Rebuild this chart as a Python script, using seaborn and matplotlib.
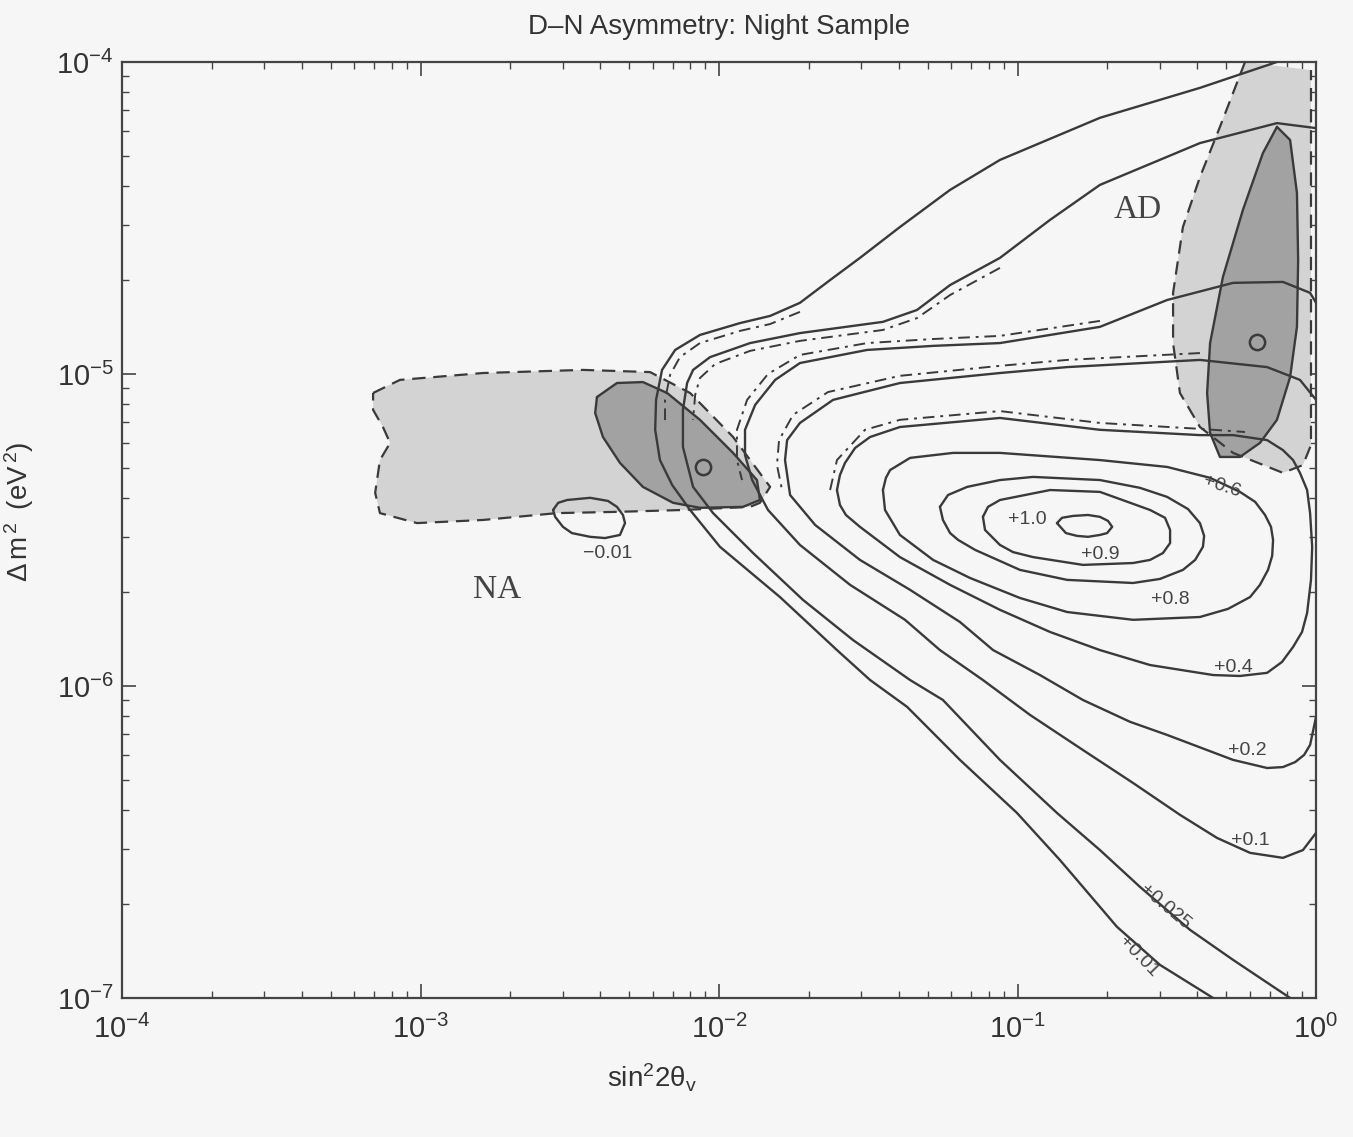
import numpy as np
import matplotlib
matplotlib.use("Agg")
import matplotlib.pyplot as plt
from matplotlib.ticker import LogLocator, NullFormatter
import seaborn as sns

# All coordinates are log10(sin^2 2theta) and log10(delta m^2 / eV^2)

# D-N asymmetry iso-contours (percent)
a001_x = [-0.131, -0.389, -0.724, -1.059, -1.226, -1.394, -1.528, -1.628, -1.729, -1.829, -1.930, -2.064, -2.147, -2.191,
          -2.211, -2.214, -2.198, -2.157, -2.097, -1.997, -1.796, -1.605, -1.494, -1.370, -1.193, -1.002, -0.858, -0.667,
          -0.523, -0.345]
a001_y = [-4.000, -4.083, -4.179, -4.314, -4.410, -4.529, -4.628, -4.699, -4.772, -4.814, -4.837, -4.875, -4.923, -4.987,
          -5.083, -5.179, -5.276, -5.356, -5.436, -5.554, -5.715, -5.885, -5.981, -6.067, -6.237, -6.407, -6.558, -6.772,
          -6.894, -7.000]

a0025_x = [0.000, -0.131, -0.389, -0.724, -0.891, -1.059, -1.226, -1.337, -1.451, -1.729, -1.896, -2.030, -2.087, -2.107,
           -2.121, -2.121, -2.087, -2.020, -1.886, -1.719, -1.551, -1.360, -1.250, -1.059, -0.868, -0.724, -0.590, -0.422,
           -0.278, -0.087]
a0025_y = [-4.212, -4.196, -4.260, -4.394, -4.506, -4.628, -4.715, -4.795, -4.833, -4.869, -4.901, -4.946, -4.987, -5.029,
           -5.115, -5.234, -5.362, -5.446, -5.574, -5.724, -5.853, -5.981, -6.045, -6.237, -6.407, -6.526, -6.644, -6.782,
           -6.878, -7.000]

a01_x = [0.000, -0.020, -0.111, -0.278, -0.499, -0.724, -1.059, -1.283, -1.504, -1.729, -1.812, -1.879, -1.913, -1.913,
         -1.889, -1.836, -1.729, -1.561, -1.377, -1.260, -1.116, -0.958, -0.791, -0.613, -0.456, -0.332, -0.221, -0.111,
         -0.044, 0.000]
a01_y = [-4.772, -4.740, -4.705, -4.708, -4.763, -4.849, -4.901, -4.910, -4.923, -4.965, -5.019, -5.099, -5.179, -5.260,
         -5.340, -5.436, -5.548, -5.676, -5.788, -5.885, -5.981, -6.093, -6.199, -6.311, -6.413, -6.487, -6.535, -6.551,
         -6.526, -6.471]

a02_x = [0.000, -0.054, -0.164, -0.389, -0.834, -1.059, -1.394, -1.618, -1.729, -1.772, -1.779, -1.762, -1.678, -1.528,
         -1.360, -1.193, -1.082, -0.925, -0.781, -0.623, -0.499, -0.278, -0.164, -0.111, -0.070, -0.040, -0.020, 0.000]
a02_y = [-5.083, -5.019, -4.978, -4.955, -4.978, -4.997, -5.029, -5.083, -5.157, -5.212, -5.276, -5.388, -5.484, -5.596,
         -5.692, -5.795, -5.885, -5.965, -6.045, -6.115, -6.157, -6.237, -6.263, -6.260, -6.244, -6.221, -6.189, -6.099]

a04_x = [-1.605, -1.595, -1.578, -1.544, -1.494, -1.394, -1.059, -0.724, -0.389, -0.278, -0.164, -0.111, -0.077, -0.054,
         -0.030, -0.020, -0.013, -0.017, -0.030, -0.047, -0.077, -0.114, -0.164, -0.255, -0.345, -0.556, -0.724, -0.891,
         -1.059, -1.226, -1.394, -1.528, -1.575, -1.595, -1.605]
a04_y = [-5.372, -5.324, -5.285, -5.237, -5.202, -5.170, -5.141, -5.179, -5.196, -5.196, -5.212, -5.244, -5.276, -5.317,
         -5.372, -5.446, -5.554, -5.660, -5.766, -5.827, -5.875, -5.923, -5.958, -5.968, -5.965, -5.933, -5.885, -5.827,
         -5.756, -5.676, -5.587, -5.490, -5.452, -5.420, -5.372]

a06_x = [-1.451, -1.441, -1.427, -1.360, -1.216, -1.059, -0.724, -0.499, -0.355, -0.255, -0.204, -0.171, -0.151, -0.144,
         -0.147, -0.161, -0.188, -0.221, -0.295, -0.389, -0.613, -0.834, -0.992, -1.159, -1.283, -1.394, -1.444, -1.451]
a06_y = [-5.372, -5.333, -5.308, -5.269, -5.253, -5.253, -5.276, -5.298, -5.333, -5.378, -5.410, -5.452, -5.490, -5.532,
         -5.583, -5.628, -5.676, -5.715, -5.753, -5.779, -5.788, -5.763, -5.718, -5.654, -5.596, -5.516, -5.436, -5.372]

a08_x = [-1.260, -1.233, -1.169, -1.059, -0.948, -0.724, -0.590, -0.499, -0.429, -0.389, -0.375, -0.379, -0.405, -0.446,
         -0.523, -0.613, -0.834, -0.992, -1.142, -1.199, -1.226, -1.250, -1.260]
a08_y = [-5.426, -5.388, -5.362, -5.340, -5.330, -5.340, -5.365, -5.394, -5.433, -5.478, -5.519, -5.554, -5.596, -5.628,
         -5.657, -5.670, -5.660, -5.628, -5.564, -5.532, -5.510, -5.468, -5.426]

a09_x = [-1.116, -1.099, -1.059, -0.891, -0.724, -0.556, -0.506, -0.489, -0.489, -0.513, -0.556, -0.613, -0.781, -0.948,
         -1.015, -1.059, -1.109, -1.116]
a09_y = [-5.458, -5.426, -5.404, -5.372, -5.378, -5.436, -5.461, -5.500, -5.542, -5.574, -5.596, -5.606, -5.612, -5.587,
         -5.571, -5.548, -5.500, -5.458]

a10_x = [-0.868, -0.851, -0.814, -0.764, -0.724, -0.697, -0.683, -0.700, -0.724, -0.764, -0.801, -0.838, -0.868]
a10_y = [-5.478, -5.461, -5.455, -5.452, -5.458, -5.471, -5.490, -5.510, -5.516, -5.522, -5.519, -5.510, -5.478]

am001_x = [-2.556, -2.539, -2.509, -2.432, -2.372, -2.342, -2.322, -2.315, -2.332, -2.382, -2.432, -2.493, -2.523, -2.549,
           -2.556]
am001_y = [-5.436, -5.413, -5.404, -5.397, -5.407, -5.426, -5.452, -5.478, -5.516, -5.526, -5.522, -5.510, -5.490, -5.458,
           -5.436]

# Companion (dash-dot) contours
dd1_x = [-1.729, -1.829, -1.930, -2.064, -2.131, -2.164, -2.181, -2.181]
dd1_y = [-4.801, -4.840, -4.862, -4.901, -4.946, -5.003, -5.083, -5.163]
dd2_x = [-1.059, -1.226, -1.337, -1.451, -1.729, -1.896, -2.013, -2.064, -2.080, -2.087]
dd2_y = [-4.660, -4.747, -4.821, -4.859, -4.894, -4.926, -4.968, -5.013, -5.067, -5.147]
dd3_x = [-0.724, -1.059, -1.283, -1.504, -1.729, -1.836, -1.906, -1.940, -1.940, -1.923]
dd3_y = [-4.830, -4.878, -4.888, -4.901, -4.939, -5.000, -5.083, -5.179, -5.276, -5.340]
dd4_x = [-0.389, -0.834, -1.059, -1.394, -1.635, -1.752, -1.799, -1.806, -1.789]
dd4_y = [-4.933, -4.955, -4.974, -5.006, -5.058, -5.131, -5.212, -5.292, -5.372]
dd5_x = [-1.628, -1.605, -1.511, -1.394, -1.059, -0.724, -0.389, -0.238]
dd5_y = [-5.372, -5.276, -5.179, -5.147, -5.119, -5.157, -5.176, -5.186]

# Allowed regions: NA (small mixing) and AD (large mixing)
na_out_x = [-3.159, -3.069, -2.791, -2.456, -2.231, -2.097, -1.953, -1.829, -1.863, -1.896, -2.121, -2.342, -2.543,
            -2.791, -3.012, -3.136, -3.152, -3.136, -3.102, -3.126, -3.159, -3.159]
na_out_y = [-5.061, -5.019, -4.997, -4.987, -4.994, -5.061, -5.202, -5.362, -5.413, -5.426, -5.436, -5.442, -5.446,
            -5.468, -5.478, -5.446, -5.381, -5.276, -5.221, -5.170, -5.115, -5.061]
na_in_x = [-2.409, -2.342, -2.255, -2.174, -2.064, -1.953, -1.873, -1.863, -1.920, -2.064, -2.154, -2.255, -2.332,
           -2.389, -2.415, -2.409]
na_in_y = [-5.074, -5.029, -5.026, -5.061, -5.147, -5.253, -5.340, -5.404, -5.426, -5.429, -5.413, -5.362, -5.285,
           -5.202, -5.125, -5.074]

ad_out_x = [-0.238, -0.265, -0.322, -0.389, -0.446, -0.479, -0.479, -0.456, -0.389, -0.278, -0.111, -0.044, -0.017,
            -0.017, -0.017]
ad_out_y = [-4.000, -4.067, -4.208, -4.369, -4.529, -4.740, -4.901, -5.061, -5.170, -5.253, -5.317, -5.292, -5.228,
            -4.763, -4.026]
ad_in_x = [-0.131, -0.087, -0.064, -0.060, -0.064, -0.087, -0.131, -0.188, -0.255, -0.322, -0.355, -0.365, -0.355,
           -0.312, -0.245, -0.178, -0.131]
ad_in_y = [-4.208, -4.250, -4.420, -4.635, -4.849, -5.010, -5.147, -5.221, -5.266, -5.266, -5.189, -5.061, -4.901,
           -4.689, -4.474, -4.292, -4.208]

# Best-fit points
best_x = [-2.054, -0.198]
best_y = [-5.298, -4.897]

# Contour labels
lab_text = ["+1.0", "+0.9", "+0.8", "+0.6", "+0.4", "+0.2", "+0.1", "+0.025", "+0.01", "\u22120.01"]
lab_x = [-0.968, -0.724, -0.489, -0.315, -0.278, -0.231, -0.221, -0.506, -0.596, -2.372]
lab_y = [-5.468, -5.580, -5.724, -5.362, -5.942, -6.208, -6.494, -6.708, -6.868, -5.574]
lab_rot = [0, 0, 0, -18, 0, 0, 0, -40, -46, 0]

BG = "#f6f6f6"
INK = "#3a3a3a"
LIGHT = "#d3d3d3"
DARK = "#a2a2a2"

sns.set_theme(style="ticks")
plt.rcParams["font.family"] = ["Liberation Sans", "DejaVu Sans"]
plt.rcParams["mathtext.fontset"] = "custom"
plt.rcParams["mathtext.rm"] = "Liberation Sans"
plt.rcParams["mathtext.it"] = "Liberation Sans:italic"
plt.rcParams["mathtext.bf"] = "Liberation Sans:bold"
plt.rcParams["mathtext.sf"] = "Liberation Sans"

fig = plt.figure(figsize=(13.53, 11.37), dpi=100, facecolor=BG)
ax = fig.add_axes([0.0902, 0.1223, 0.8825, 0.8232], facecolor=BG)
ax.set_xscale("log")
ax.set_yscale("log")
ax.set_xlim(1e-4, 1)
ax.set_ylim(1e-7, 1e-4)


def pw(v):
    return 10.0 ** np.asarray(v, dtype=float)


# shaded allowed regions
ax.fill(pw(na_out_x), pw(na_out_y), color=LIGHT, lw=0, zorder=1)
ax.fill(pw(ad_out_x), pw(ad_out_y), color=LIGHT, lw=0, zorder=1)
ax.fill(pw(na_in_x), pw(na_in_y), color=DARK, lw=0, zorder=2)
ax.fill(pw(ad_in_x), pw(ad_in_y), color=DARK, lw=0, zorder=2)


def trace(xs, ys, **kw):
    sns.lineplot(x=pw(xs), y=pw(ys), sort=False, estimator=None, ax=ax,
                 legend=False, solid_joinstyle="round", dash_joinstyle="round", **kw)


dashed = (0, (6, 3.5))
dashdot = (0, (6, 3, 1.5, 3))

trace(na_out_x, na_out_y, color=INK, lw=1.6, linestyle=dashed, zorder=3)
trace(ad_out_x, ad_out_y, color=INK, lw=1.6, linestyle=dashed, zorder=3)
trace(na_in_x, na_in_y, color=INK, lw=1.7, zorder=3)
trace(ad_in_x, ad_in_y, color=INK, lw=1.7, zorder=3)

for xs, ys in [(dd1_x, dd1_y), (dd2_x, dd2_y), (dd3_x, dd3_y), (dd4_x, dd4_y), (dd5_x, dd5_y)]:
    trace(xs, ys, color=INK, lw=1.4, linestyle=dashdot, zorder=4)

for xs, ys in [(a001_x, a001_y), (a0025_x, a0025_y), (a01_x, a01_y), (a02_x, a02_y),
               (a04_x, a04_y), (a06_x, a06_y), (a08_x, a08_y), (a09_x, a09_y),
               (a10_x, a10_y), (am001_x, am001_y)]:
    trace(xs, ys, color=INK, lw=1.7, zorder=5)

ax.plot(pw(best_x), pw(best_y), linestyle="none", marker="o", ms=11, mfc="none",
        mec=INK, mew=1.8, zorder=6)

for t, x, y, r in zip(lab_text, lab_x, lab_y, lab_rot):
    ax.text(10 ** x, 10 ** y, t, fontsize=14, color="#444444", ha="center", va="center",
            rotation=r, rotation_mode="anchor", zorder=7)

ax.text(10 ** -2.744, 10 ** -5.692, "NA", fontsize=24, family="Liberation Serif",
        color="#444444", ha="center", va="center", zorder=7)
ax.text(10 ** -0.596, 10 ** -4.474, "AD", fontsize=24, family="Liberation Serif",
        color="#444444", ha="center", va="center", zorder=7)

# axes frame and ticks
for s in ax.spines.values():
    s.set_color("#444444")
    s.set_linewidth(1.6)
    s.set_visible(True)
ax.xaxis.set_major_locator(LogLocator(base=10, numticks=10))
ax.yaxis.set_major_locator(LogLocator(base=10, numticks=10))
ax.xaxis.set_minor_locator(LogLocator(base=10, subs=np.arange(2, 10), numticks=20))
ax.yaxis.set_minor_locator(LogLocator(base=10, subs=np.arange(2, 10), numticks=20))
ax.xaxis.set_minor_formatter(NullFormatter())
ax.yaxis.set_minor_formatter(NullFormatter())
ax.tick_params(which="both", direction="in", top=True, right=True, color="#444444",
               labelcolor="#333333", labelsize=21)
ax.tick_params(which="major", length=10, width=1.2)
ax.tick_params(which="minor", length=5, width=1.0)
ax.tick_params(axis="x", which="major", pad=12)
ax.tick_params(axis="y", which="major", pad=6)

ax.set_title("D\u2013N Asymmetry: Night Sample", fontsize=20, color="#333333", pad=20)
ax.set_xlabel(r"$\mathrm{sin}^{2}\mathrm{2\theta_{v}}$", fontsize=20, color="#333333")
ax.set_ylabel(r"$\Delta\,\mathrm{m}^{\,2}\;\;(\mathrm{eV}^{\,2})$", fontsize=20, color="#333333")
ax.xaxis.set_label_coords(0.444, -0.068)
ax.yaxis.set_label_coords(-0.072, 0.519)

fig.savefig("out.png", dpi=100, facecolor=BG)
